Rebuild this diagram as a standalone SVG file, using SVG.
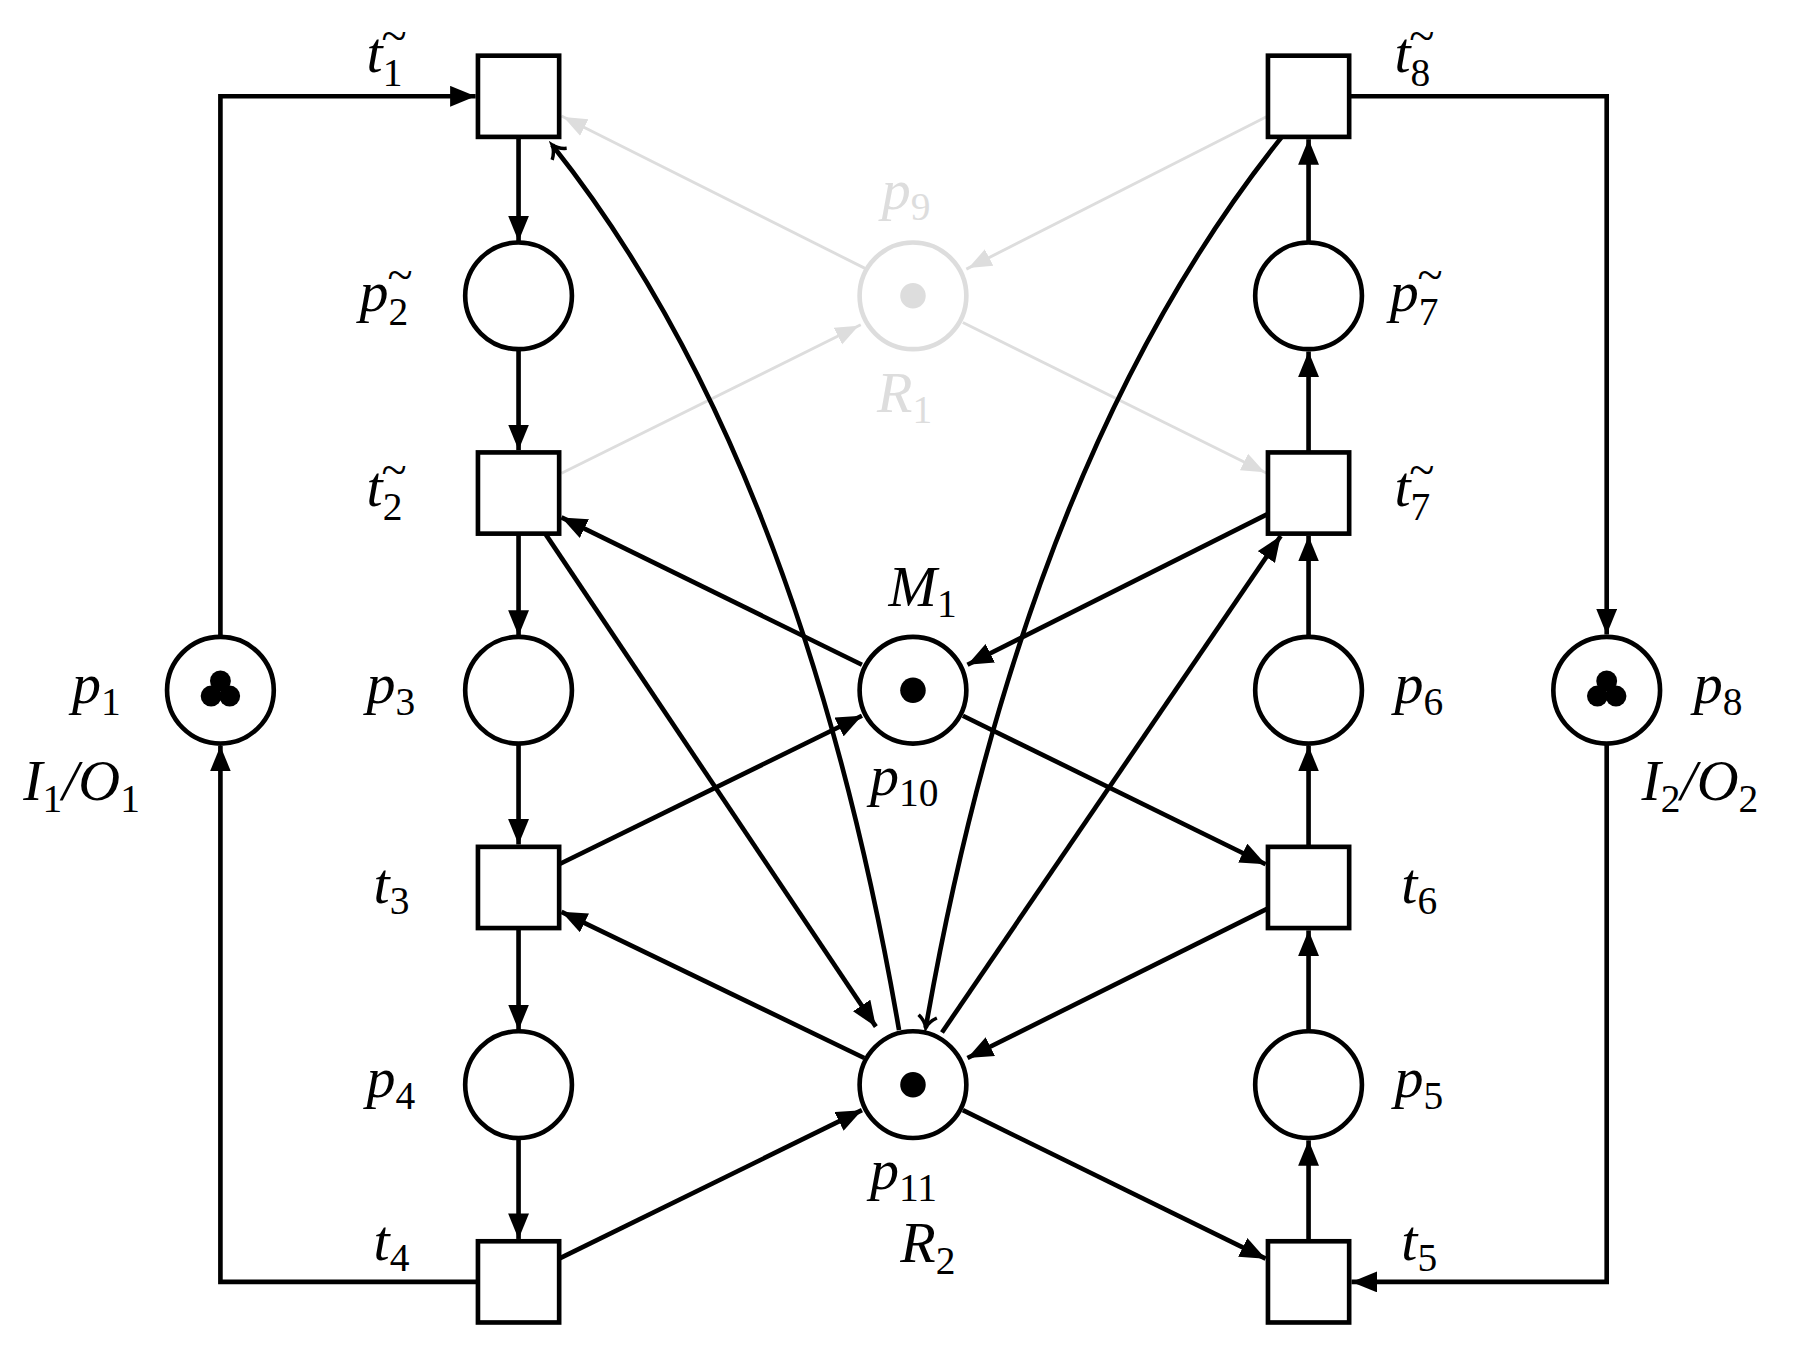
<svg xmlns="http://www.w3.org/2000/svg" width="1819" height="1353" viewBox="0 0 1819 1353">
<defs>
<marker id="a" markerUnits="userSpaceOnUse" markerWidth="24" markerHeight="18" refX="22" refY="9" orient="auto"><path d="M0,0 L22,9 L0,18 Z" fill="#000"/></marker>
<marker id="g" markerUnits="userSpaceOnUse" markerWidth="24" markerHeight="18" refX="22" refY="9" orient="auto"><path d="M0,1 L20,9 L0,17 Z" fill="#ddd"/></marker>
<marker id="o" markerUnits="userSpaceOnUse" markerWidth="16" markerHeight="20" refX="12" refY="10" orient="auto"><path d="M2,2 Q6,8 12,10 Q6,12 2,18" fill="none" stroke="#000" stroke-width="3"/></marker>
<style>
.n{fill:#fff;stroke:#000;stroke-width:4}
.gn{fill:#fff;stroke:#ddd;stroke-width:4}
.ea{fill:none;stroke:#000;stroke-width:4;marker-end:url(#a)}
.ga{fill:none;stroke:#ddd;stroke-width:2.5;marker-end:url(#g)}
.oa{fill:none;stroke:#000;stroke-width:4;marker-end:url(#o)}
text{font-family:"Liberation Serif","DejaVu Serif",serif;font-style:italic;font-size:50px;fill:#000}
.s{font-size:34px;font-style:normal}
.tl{font-size:40px;font-style:normal}
.gt{fill:#ddd}
</style>
</defs>
<g transform="scale(1.16007)">
<g id="connectors">
<path class="ea" d="M190,549 V83 H410"/>
<path class="ea" d="M412,1105 H190 V643"/>
<path class="ea" d="M1163,83 H1385 V547"/>
<path class="ea" d="M1385,641 V1105 H1165"/>
<path class="ea" d="M447,118 V208"/>
<path class="ea" d="M447,301 V388"/>
<path class="ea" d="M447,460 V548"/>
<path class="ea" d="M447,641 V728"/>
<path class="ea" d="M447,800 V888"/>
<path class="ea" d="M447,981 V1068"/>
<path class="ea" d="M1128,1070 V983"/>
<path class="ea" d="M1128,889 V802"/>
<path class="ea" d="M1128,730 V643"/>
<path class="ea" d="M1128,549 V462"/>
<path class="ea" d="M1128,390 V303"/>
<path class="ea" d="M1128,209 V120"/>
<path class="ga" d="M747,232 L484,100"/>
<path class="ga" d="M484,408 L742,280"/>
<path class="ga" d="M1093,100 L833,232"/>
<path class="ga" d="M830,278 L1092,408"/>
<path class="ea" d="M743,573 L484,446"/>
<path class="ea" d="M482,745 L743,617"/>
<path class="ea" d="M1093,443 L834,573"/>
<path class="ea" d="M830,617 L1091,745"/>
<path class="ea" d="M745,912 L484,786"/>
<path class="ea" d="M482,1085 L743,957"/>
<path class="ea" d="M1093,783 L834,912"/>
<path class="ea" d="M830,957 L1091,1085"/>
<path class="ea" d="M470,460 L755,885"/>
<path class="ea" d="M812,890 L1104,462"/>
<path class="oa" d="M775,888 Q690,394 476,125"/>
<path class="oa" d="M1105,118 Q884,394 798,886"/>
</g>
<g id="t1"><rect class="n" x="412" y="48" width="70" height="70"/></g>
<g id="t2"><rect class="n" x="412" y="390" width="70" height="70"/></g>
<g id="t3"><rect class="n" x="412" y="730" width="70" height="70"/></g>
<g id="t4"><rect class="n" x="412" y="1070" width="70" height="70"/></g>
<g id="t8"><rect class="n" x="1093" y="48" width="70" height="70"/></g>
<g id="t7"><rect class="n" x="1093" y="390" width="70" height="70"/></g>
<g id="t6"><rect class="n" x="1093" y="730" width="70" height="70"/></g>
<g id="t5"><rect class="n" x="1093" y="1070" width="70" height="70"/></g>
<g id="p2"><circle class="n" cx="447" cy="255" r="46"/></g>
<g id="p3"><circle class="n" cx="447" cy="595" r="46"/></g>
<g id="p4"><circle class="n" cx="447" cy="935" r="46"/></g>
<g id="p7"><circle class="n" cx="1128" cy="255" r="46"/></g>
<g id="p6"><circle class="n" cx="1128" cy="595" r="46"/></g>
<g id="p5"><circle class="n" cx="1128" cy="935" r="46"/></g>
<g id="p9"><circle class="gn" cx="787" cy="255" r="46"/><circle cx="787" cy="255" r="11" fill="#ddd"/></g>
<g id="p10"><circle class="n" cx="787" cy="595" r="46"/><circle cx="787" cy="595" r="11"/></g>
<g id="p11"><circle class="n" cx="787" cy="935" r="46"/><circle cx="787" cy="935" r="11"/></g>
<g id="p1"><circle class="n" cx="190" cy="595" r="46"/><circle cx="190" cy="587" r="9"/><circle cx="182" cy="600" r="9"/><circle cx="198" cy="600" r="9"/></g>
<g id="p8"><circle class="n" cx="1385" cy="595" r="46"/><circle cx="1385" cy="587" r="9"/><circle cx="1377" cy="600" r="9"/><circle cx="1393" cy="600" r="9"/></g>
<g id="labels">
<text x="316" y="62">t<tspan class="s" dy="12">1</tspan><tspan class="tl" dx="-18" dy="-30">~</tspan></text>
<text x="310" y="268">p<tspan class="s" dy="12">2</tspan><tspan class="tl" dx="-18" dy="-30">~</tspan></text>
<text x="316" y="436">t<tspan class="s" dy="12">2</tspan><tspan class="tl" dx="-18" dy="-30">~</tspan></text>
<text x="316" y="606">p<tspan class="s" dy="10">3</tspan></text>
<text x="322" y="778">t<tspan class="s" dy="10">3</tspan></text>
<text x="316" y="946">p<tspan class="s" dy="10">4</tspan></text>
<text x="322" y="1086">t<tspan class="s" dy="10">4</tspan></text>
<text x="62" y="606">p<tspan class="s" dy="10">1</tspan></text>
<text x="20" y="690">I<tspan class="s" dy="10">1</tspan><tspan dy="-10">/O</tspan><tspan class="s" dy="10">1</tspan></text>
<text class="gt" x="760" y="180">p<tspan class="s" dy="10">9</tspan></text>
<text class="gt" x="756" y="355">R<tspan class="s" dy="10">1</tspan></text>
<text x="766" y="522">M<tspan class="s" dy="10">1</tspan></text>
<text x="750" y="685">p<tspan class="s" dy="10">10</tspan></text>
<text x="750" y="1025">p<tspan class="s" dy="10">11</tspan></text>
<text x="776" y="1088">R<tspan class="s" dy="10">2</tspan></text>
<text x="1202" y="62">t<tspan class="s" dy="12">8</tspan><tspan class="tl" dx="-18" dy="-30">~</tspan></text>
<text x="1198" y="268">p<tspan class="s" dy="12">7</tspan><tspan class="tl" dx="-18" dy="-30">~</tspan></text>
<text x="1202" y="436">t<tspan class="s" dy="12">7</tspan><tspan class="tl" dx="-18" dy="-30">~</tspan></text>
<text x="1202" y="606">p<tspan class="s" dy="10">6</tspan></text>
<text x="1208" y="778">t<tspan class="s" dy="10">6</tspan></text>
<text x="1202" y="946">p<tspan class="s" dy="10">5</tspan></text>
<text x="1208" y="1086">t<tspan class="s" dy="10">5</tspan></text>
<text x="1460" y="606">p<tspan class="s" dy="10">8</tspan></text>
<text x="1415" y="690">I<tspan class="s" dy="10">2</tspan><tspan dy="-10">/O</tspan><tspan class="s" dy="10">2</tspan></text>
</g>
</g>
</svg>
